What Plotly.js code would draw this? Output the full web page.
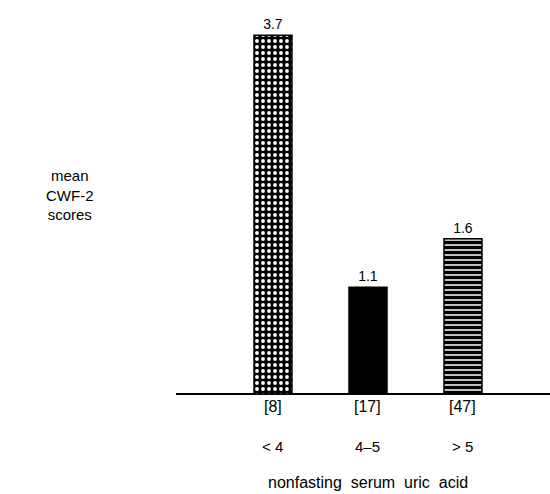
<!DOCTYPE html>
<html>
<head>
<meta charset="utf-8">
<script src="https://cdn.plot.ly/plotly-3.0.1.min.js"></script>
<style>html,body{margin:0;padding:0;background:#fff;}#chart{width:550px;height:494px;}</style>
</head>
<body>
<div id="chart"></div>
<script>
var categories = ["< 4", "4\u20135", "> 5"];
var meanScores = [3.7, 1.1, 1.6];
var valueLabels = ["3.7", "1.1", "1.6"];
var sampleSizes = ["[8]", "[17]", "[47]"];
var positions = [0, 1, 2];

var font = {family: "Liberation Sans, Arial, sans-serif", color: "#000"};

var common = {type: "bar", textposition: "outside", cliponaxis: false, width: 0.4,
  constraintext: "none", hoverinfo: "none",
  textfont: {family: font.family, size: 14, color: "#000"}};

var traces = [
  Object.assign({}, common, {
    x: [positions[0]], y: [meanScores[0]], text: [valueLabels[0]],
    marker: {color: "#000", line: {color: "#000", width: 1.5},
      pattern: {shape: ".", bgcolor: "#000", fgcolor: "#fff", fgopacity: 1, size: 6, solidity: 0.32}}
  }),
  Object.assign({}, common, {
    x: [positions[1]], y: [meanScores[1]], text: [valueLabels[1]],
    marker: {color: "#000", line: {color: "#000", width: 1.5}}
  }),
  Object.assign({}, common, {
    x: [positions[2]], y: [meanScores[2]], text: [valueLabels[2]],
    marker: {color: "#fff", line: {color: "#000", width: 1.5},
      pattern: {shape: "-", bgcolor: "#fff", fgcolor: "#000", fgopacity: 1, size: 5, solidity: 0.7}}
  })
];

var annotations = [];
positions.forEach(function (p, i) {
  annotations.push({x: p, y: 0, xref: "x", yref: "y", text: sampleSizes[i], showarrow: false,
    yanchor: "top", yshift: -2, font: {family: font.family, size: 16, color: "#000"}});
  annotations.push({x: p, y: 0, xref: "x", yref: "y", text: categories[i], showarrow: false,
    yanchor: "middle", yshift: -52, font: {family: font.family, size: 15, color: "#000"}});
});
annotations.push({x: 1, y: 0, xref: "x", yref: "y", text: "nonfasting&nbsp;&nbsp;serum&nbsp;&nbsp;uric&nbsp;&nbsp;acid", showarrow: false,
  yanchor: "middle", yshift: -88, font: {family: font.family, size: 16, color: "#000"}});
annotations.push({x: (70 - 176) / 374, y: 1 - (195 - 20) / 374, xref: "paper", yref: "paper",
  xanchor: "center", yanchor: "middle",
  text: "mean<br>CWF-2<br>scores", showarrow: false,
  font: {family: font.family, size: 15, color: "#000"}});

var layout = {
  width: 550, height: 494,
  margin: {l: 176, r: 0, t: 20, b: 100},
  paper_bgcolor: "#fff", plot_bgcolor: "#fff",
  showlegend: false,
  barmode: "overlay",
  xaxis: {range: [-1.021, 2.916], showgrid: false, zeroline: false, showticklabels: false,
    ticks: "", showline: false, fixedrange: true},
  yaxis: {range: [0, 3.856], showgrid: false, zeroline: true, zerolinecolor: "#000", zerolinewidth: 2,
    showticklabels: false, ticks: "", showline: false, fixedrange: true},
  annotations: annotations,
  font: font
};

Plotly.newPlot("chart", traces, layout, {displayModeBar: false, staticPlot: true});
</script>
</body>
</html>
